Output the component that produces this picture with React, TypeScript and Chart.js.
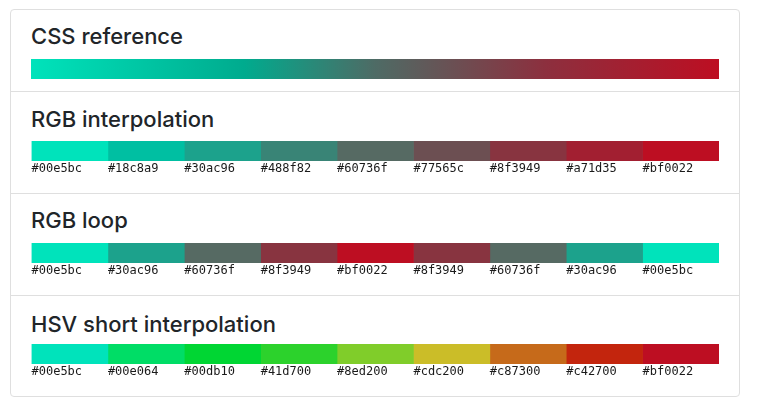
import React, { useEffect, useRef } from "react";
import { Chart, registerables } from "chart.js";

Chart.register(...registerables);

// ---- data ----
const sectionTitles = ["CSS reference", "RGB interpolation", "RGB loop", "HSV short interpolation"];

// CSS reference gradient, as it appears on screen
const cssReferenceColors = ["#00e3bb", "#00ab8e", "#4e6b65", "#8d2f3e", "#bd0e22"];
const cssReferenceOffsets = [0, 0.31, 0.5, 0.75, 1];

// hex labels
const rgbInterpolation = ["#00e5bc", "#18c8a9", "#30ac96", "#488f82", "#60736f", "#77565c", "#8f3949", "#a71d35", "#bf0022"];
const rgbLoop = ["#00e5bc", "#30ac96", "#60736f", "#8f3949", "#bf0022", "#8f3949", "#60736f", "#30ac96", "#00e5bc"];
const hsvShort = ["#00e5bc", "#00e064", "#00db10", "#41d700", "#8ed200", "#cdc200", "#c87300", "#c42700", "#bf0022"];

// swatch fills, as they appear on screen
const rgbInterpolationFill = ["#00e3bb", "#00bfa2", "#1ca28c", "#398476", "#566a63", "#6c4f52", "#883440", "#a21f31", "#bd0e22"];
const rgbLoopFill = ["#00e3bb", "#1ca28c", "#566a63", "#883440", "#bd0e22", "#883440", "#566a63", "#1ca28c", "#00e3bb"];
const hsvShortFill = ["#00e3bb", "#00dd66", "#00d633", "#2cd22c", "#80cd2a", "#cbbd28", "#c66a1a", "#c3250d", "#bd0e22"];

const swatchValue = 1;

const BAR_W = 688;
const BAR_H = 20;
const AXIS_H = 16;

function GradientBar({ colors, offsets, top }: { colors: string[]; offsets: number[]; top: number }) {
  const ref = useRef<HTMLCanvasElement>(null);
  useEffect(() => {
    const chart = new Chart(ref.current!, {
      type: "bar",
      data: {
        labels: ["css"],
        datasets: [
          {
            data: [swatchValue],
            borderWidth: 0,
            barPercentage: 1,
            categoryPercentage: 1,
            backgroundColor: (ctx: any) => {
              const area = ctx.chart.chartArea;
              if (!area) return colors[0];
              const g = ctx.chart.ctx.createLinearGradient(area.left, 0, area.right, 0);
              colors.forEach((c, i) => g.addColorStop(offsets[i], c));
              return g;
            },
          },
        ],
      },
      options: {
        indexAxis: "y",
        responsive: false,
        animation: false,
        layout: { padding: 0 },
        plugins: { legend: { display: false }, tooltip: { enabled: false } },
        scales: {
          x: { display: false, min: 0, max: swatchValue },
          y: { display: false },
        },
      },
    } as any);
    return () => chart.destroy();
  }, []);
  return (
    <canvas
      ref={ref}
      width={BAR_W}
      height={BAR_H}
      style={{ position: "absolute", left: 31, top, width: BAR_W, height: BAR_H }}
    />
  );
}

function SwatchBar({ labels, fills, top }: { labels: string[]; fills: string[]; top: number }) {
  const ref = useRef<HTMLCanvasElement>(null);
  useEffect(() => {
    const chart = new Chart(ref.current!, {
      type: "bar",
      data: {
        labels: ["row"],
        datasets: fills.map((c, i) => ({
          label: labels[i],
          data: [swatchValue],
          backgroundColor: c,
          borderWidth: 0,
          barPercentage: 1,
          categoryPercentage: 1,
        })),
      },
      options: {
        indexAxis: "y",
        responsive: false,
        animation: false,
        layout: { padding: 0 },
        plugins: { legend: { display: false }, tooltip: { enabled: false } },
        scales: {
          x: {
            stacked: true,
            min: 0,
            max: labels.length * swatchValue,
            border: { display: false },
            grid: { display: false, drawTicks: false },
            afterBuildTicks: (scale: any) => {
              scale.ticks = labels.map((_, i) => ({ value: i * swatchValue }));
            },
            afterFit: (scale: any) => {
              scale.height = AXIS_H;
            },
            ticks: {
              align: "start",
              autoSkip: false,
              maxRotation: 0,
              minRotation: 0,
              padding: 0.5,
              color: "#1a1a1a",
              font: { family: "'DejaVu Sans Mono', monospace", size: 12, lineHeight: 1.2 },
              callback: (_v: any, i: number) => labels[i],
            },
          },
          y: { stacked: true, display: false },
        },
      },
    } as any);
    return () => chart.destroy();
  }, []);
  return (
    <canvas
      ref={ref}
      width={BAR_W}
      height={BAR_H + AXIS_H}
      style={{ position: "absolute", left: 31, top, width: BAR_W, height: BAR_H + AXIS_H }}
    />
  );
}

function Title({ text, top }: { text: string; top: number }) {
  return (
    <div
      style={{
        position: "absolute",
        left: 31,
        top,
        margin: 0,
        fontFamily: "Inter, 'Noto Sans', sans-serif",
        fontWeight: 500,
        fontSize: 22,
        lineHeight: "22px",
        color: "#212529",
        whiteSpace: "nowrap",
      }}
    >
      {text}
    </div>
  );
}

function Divider({ top }: { top: number }) {
  return (
    <div style={{ position: "absolute", left: 10, top, width: 729, height: 1, background: "#dfdfdf" }} />
  );
}

export default function App() {
  return (
    <div style={{ position: "absolute", left: 0, top: 0, width: 759, height: 397, background: "#fff", overflow: "hidden" }}>
      <div
        style={{
          position: "absolute",
          left: 10,
          top: 9,
          width: 730,
          height: 388,
          boxSizing: "border-box",
          border: "1px solid #dfdfdf",
          borderRadius: 4,
        }}
      />
      <Divider top={91} />
      <Divider top={193} />
      <Divider top={295} />

      <Title text={sectionTitles[0]} top={25} />
      <GradientBar colors={cssReferenceColors} offsets={cssReferenceOffsets} top={59} />

      <Title text={sectionTitles[1]} top={107.5} />
      <SwatchBar labels={rgbInterpolation} fills={rgbInterpolationFill} top={141} />

      <Title text={sectionTitles[2]} top={209} />
      <SwatchBar labels={rgbLoop} fills={rgbLoopFill} top={243} />

      <Title text={sectionTitles[3]} top={312.5} />
      <SwatchBar labels={hsvShort} fills={hsvShortFill} top={344} />
    </div>
  );
}
